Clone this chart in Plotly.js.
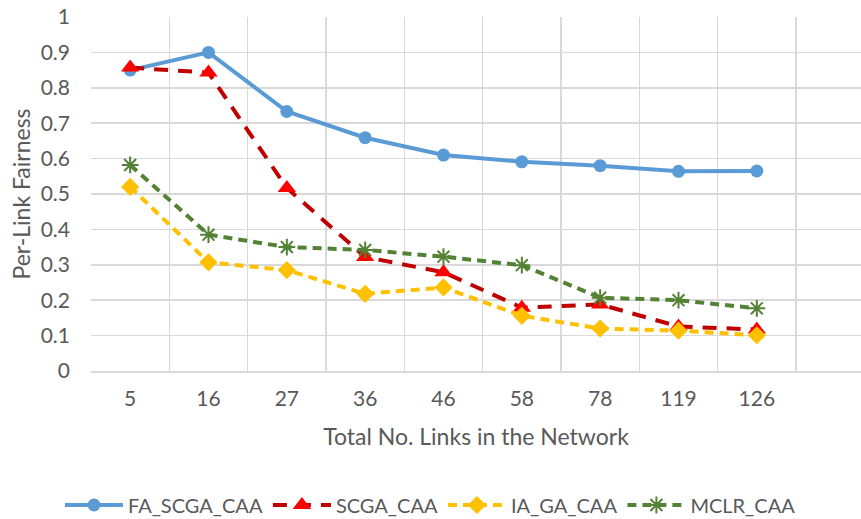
<!DOCTYPE html>
<html><head><meta charset="utf-8">
<script src="https://cdn.plot.ly/plotly-3.0.1.min.js"></script>
<style>html,body{margin:0;padding:0;background:#fff}#chart{width:861px;height:519px}</style>
</head><body><div id="chart"></div>
<script>
const categories = ["5","16","27","36","46","58","78","119","126"];
const faScgaCaa = [0.85, 0.90, 0.733, 0.659, 0.61, 0.591, 0.58, 0.564, 0.565];
const scgaCaa   = [0.857, 0.843, 0.517, 0.322, 0.279, 0.179, 0.188, 0.126, 0.117];
const iaGaCaa   = [0.52, 0.307, 0.285, 0.218, 0.236, 0.156, 0.12, 0.114, 0.101];
const mclrCaa   = [0.582, 0.385, 0.35, 0.342, 0.323, 0.299, 0.207, 0.2, 0.177];
const seriesNames = ["FA_SCGA_CAA","SCGA_CAA","IA_GA_CAA","MCLR_CAA"];
const yTicks = [0,0.1,0.2,0.3,0.4,0.5,0.6,0.7,0.8,0.9,1];

const FONT = "Lato, sans-serif";
const traces = [
  {x: categories, y: faScgaCaa, name: seriesNames[0], mode: "lines+markers",
   line: {color: "#5B9BD5", width: 4}, marker: {symbol: "circle", size: 13, color: "#5B9BD5"}},
  {x: categories, y: scgaCaa, name: seriesNames[1], mode: "lines+markers",
   line: {color: "#C00000", width: 4, dash: "14px,10px"}, marker: {symbol: "triangle-up", size: 16, color: "#FF0000"}},
  {x: categories, y: iaGaCaa, name: seriesNames[2], mode: "lines+markers",
   line: {color: "#FFC000", width: 4, dash: "9px,6px"}, marker: {symbol: "diamond", size: 14, color: "#FFC000"}},
  {x: categories, y: mclrCaa, name: seriesNames[3], mode: "lines+markers",
   line: {color: "#548235", width: 4, dash: "9px,6px"}, marker: {symbol: "asterisk-open", size: 14, color: "#548235", line: {color: "#548235", width: 2}}}
];
const layout = {
  width: 861, height: 519,
  margin: {l: 91, r: 0, t: 17, b: 148},
  paper_bgcolor: "#fff", plot_bgcolor: "#fff",
  font: {family: FONT, color: "#595959", size: 21},
  showlegend: true,
  legend: {orientation: "h", x: 0.5, xanchor: "center", xref: "container", y: 0.027, yref: "container", yanchor: "middle",
           font: {size: 20, color: "#595959"}, itemwidth: 58, tracegroupgap: 0,
           entrywidthmode: "pixels", entrywidth: 0},
  xaxis: {type: "category", range: [-0.5, 9.33], tickson: "boundaries",
          showgrid: true, gridcolor: "#D9D9D9", gridwidth: 1.5,
          showline: true, linecolor: "#D9D9D9", linewidth: 1.5, zeroline: false,
          ticks: "", tickfont: {size: 21, color: "#595959"}, ticklabelstandoff: 8,
          title: {text: "Total No. Links in the Network", font: {size: 23, color: "#595959"}, standoff: 20}},
  yaxis: {range: [0, 1], tickvals: yTicks, ticktext: yTicks.map(v => String(v)),
          showgrid: true, gridcolor: "#D9D9D9", gridwidth: 1.5, zeroline: false, showline: false,
          ticks: "", tickfont: {size: 21, color: "#595959"}, ticklabelstandoff: 20,
          title: {text: "Per-Link Fairness", font: {size: 23, color: "#595959"}, standoff: 3}}
};
Plotly.newPlot("chart", traces, layout, {displayModeBar: false, staticPlot: true});
</script></body></html>
